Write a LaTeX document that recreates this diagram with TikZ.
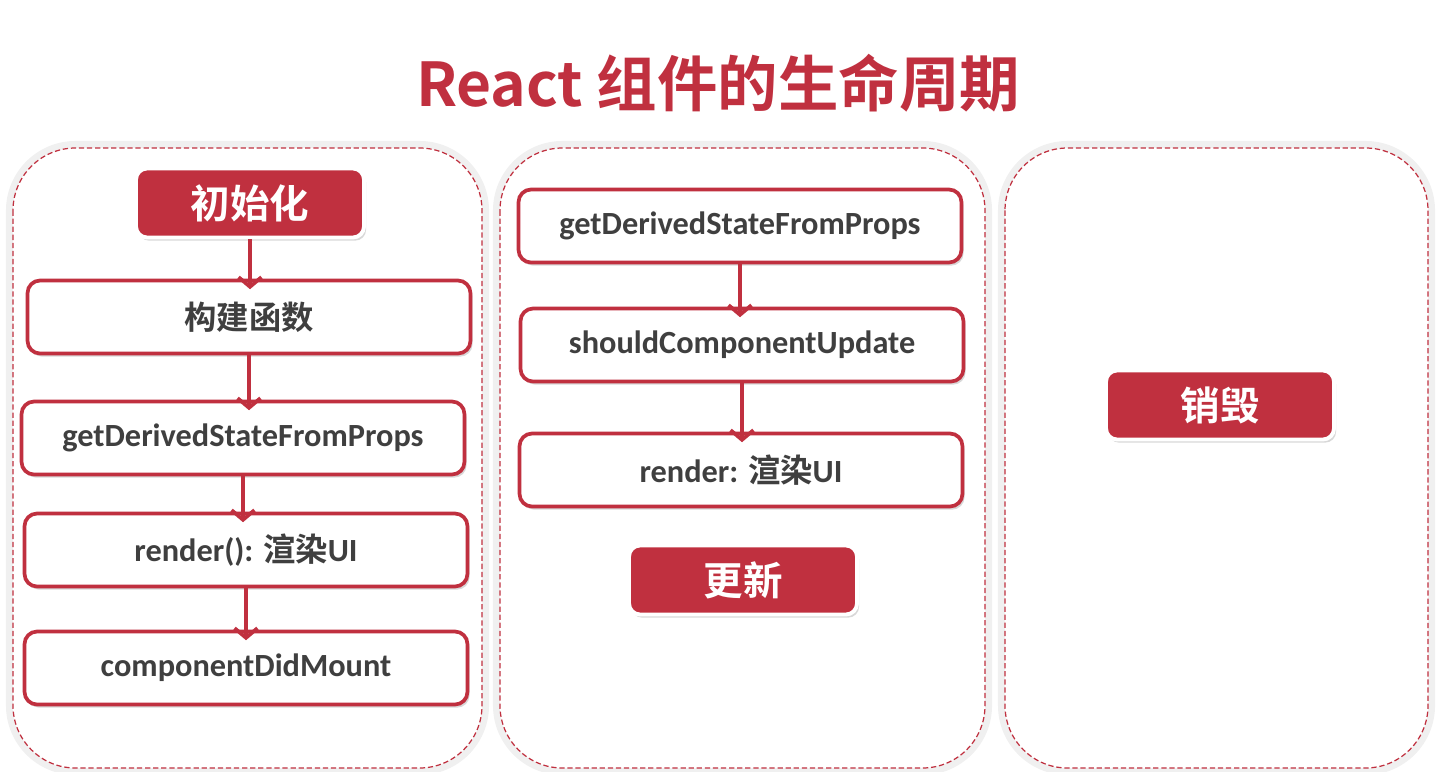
\documentclass[tikz,border=0pt]{standalone}
\usepackage{fontspec}
\setmainfont{Carlito}
\newfontfamily\cjk{Noto Sans CJK SC}[BoldFont={Noto Sans CJK SC Bold}]
\newcommand\zh[1]{{\cjk #1}}
\usetikzlibrary{arrows.meta,shadows,positioning}
\definecolor{lcred}{HTML}{C0303F}
\definecolor{lcgray}{HTML}{3F3F3F}
\tikzset{
  halo/.style={draw=black!6,line width=8pt,rounded corners=1.25cm},
  phase/.style={draw=lcred,fill=white,line width=0.7pt,dash pattern=on 3pt off 1.6pt,rounded corners=1.25cm},
  stage/.style={fill=lcred,draw=white,line width=2.2pt,rounded corners=0.22cm,text=white,
    font=\cjk\bfseries\fontsize{22.5}{26}\selectfont,minimum width=4.56cm,minimum height=1.38cm,
    drop shadow={opacity=0.3,shadow xshift=1.2pt,shadow yshift=-1.8pt}},
  hook/.style={fill=white,draw=lcred,line width=2.1pt,rounded corners=0.25cm,text=lcgray,
    font=\bfseries\fontsize{18.4}{22}\selectfont,minimum width=8.86cm,minimum height=1.46cm,
    drop shadow={opacity=0.3,shadow xshift=1.2pt,shadow yshift=-1.8pt}},
  flow/.style={draw=lcred,line width=2.1pt,shorten >=-6pt,-{Straight Barb[length=5.5pt,width=13pt]}}
}
\begin{document}
\begin{tikzpicture}[x=0.02cm,y=-0.02cm]
\useasboundingbox (0,0) rectangle (1446,771);
% title
\node[text=lcred,font=\cjk\bfseries\fontsize{34.4}{40}\selectfont] (title) at (718,83) {React 组件的生命周期};
% three phases
\draw[halo] (13,148) rectangle (482,768);
\draw[phase] (13,148) rectangle (482,768);
\draw[halo] (500,148) rectangle (985,768);
\draw[phase] (500,148) rectangle (985,768);
\draw[halo] (1005,148) rectangle (1428,768);
\draw[phase] (1005,148) rectangle (1428,768);
% mounting
\node[stage] (init) at (250,203) {初始化};
\node[hook] (ctor) at (249,317) {\zh{构建函数}};
\node[hook] (derive1) at (243,438) {getDerivedStateFromProps};
\node[hook] (render1) at (246,550) {render(): \zh{渲染}UI};
\node[hook] (mount) at (246,668) {componentDidMount};
\draw[flow] (init.south) -- (init.south |- ctor.north);
\draw[flow] (ctor.south) -- (ctor.south |- derive1.north);
\draw[flow] (derive1.south) -- (derive1.south |- render1.north);
\draw[flow] (render1.south) -- (render1.south |- mount.north);
% updating
\node[hook] (derive2) at (740,226) {getDerivedStateFromProps};
\node[hook] (should) at (742,345) {shouldComponentUpdate};
\node[hook] (render2) at (741,470) {render: \zh{渲染}UI};
\node[stage] (update) at (743,580) {更新};
\draw[flow] (derive2.south) -- (derive2.south |- should.north);
\draw[flow] (should.south) -- (should.south |- render2.north);
% unmounting
\node[stage] (destroy) at (1220,405) {销毁};
\end{tikzpicture}
\end{document}
